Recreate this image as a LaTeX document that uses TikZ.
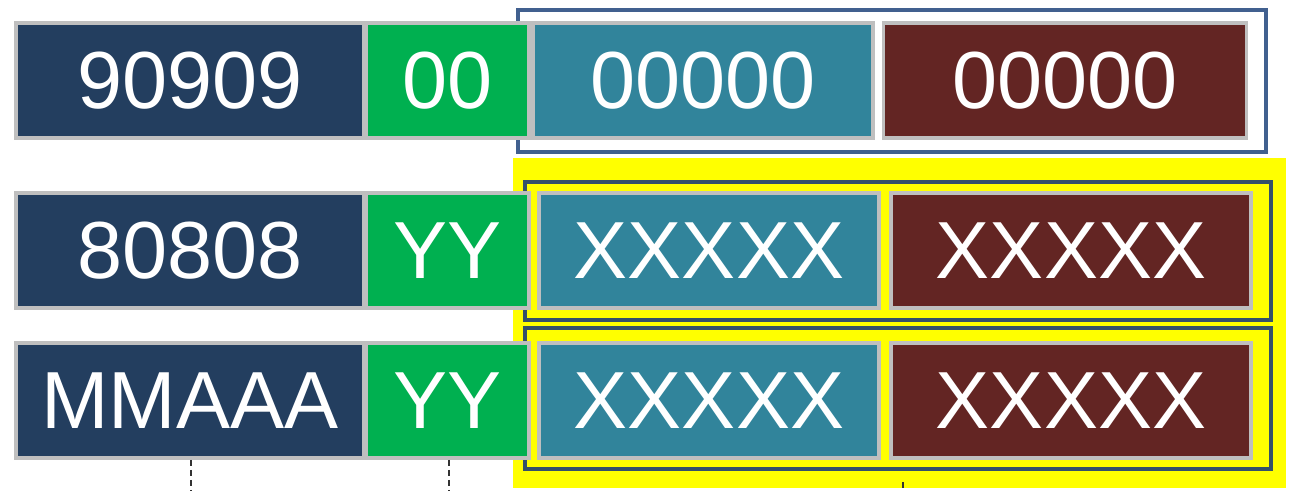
\documentclass[tikz,border=0pt]{standalone}
\usepackage{fontspec}
\setmainfont{Liberation Sans}
\definecolor{navy}{HTML}{233E5F}
\definecolor{grn}{HTML}{00B050}
\definecolor{teal2}{HTML}{31849B}
\definecolor{maroon2}{HTML}{632523}
\definecolor{cellgray}{HTML}{BFBFBF}
\definecolor{frameblue}{HTML}{41608F}
\definecolor{framedark}{HTML}{34506A}
\definecolor{yel}{HTML}{FFFF00}
\tikzset{
  cell/.style={draw=cellgray, line width=3.5pt, text=white, inner sep=0pt,
    minimum height=115pt, font=\fontsize{81}{90}\selectfont},
  frame/.style={line width=3.8pt},
  guide/.style={dash pattern=on 6pt off 4pt, line width=1.4pt, black!80}
}
\begin{document}
\begin{tikzpicture}[x=1pt,y=-1pt]
\useasboundingbox[fill=white] (0,0) rectangle (1289,490);
% frames and highlight
\draw[frame, draw=frameblue] (518,10) rectangle (1266,152);
\fill[yel] (513,158) rectangle (1286,488);
\draw[frame, draw=framedark] (525,182) rectangle (1271,320);
\draw[frame, draw=framedark] (525,328) rectangle (1271,469);
% row 1
\node[cell, fill=navy, minimum width=348pt] (n1) at (190,80.5) {90909};
\node[cell, fill=grn, minimum width=163pt] (g1) at (447.5,80.5) {00};
\node[cell, fill=teal2, minimum width=340pt] (t1) at (703,80.5) {00000};
\node[cell, fill=maroon2, minimum width=363pt] (m1) at (1065,80.5) {00000};
% row 2
\node[cell, fill=navy, minimum width=348pt] (n2) at (190,250.5) {80808};
\node[cell, fill=grn, minimum width=163pt] (g2) at (447.5,250.5) {YY};
\node[cell, fill=teal2, minimum width=340pt] (t2) at (709,250.5) {XXXXX};
\node[cell, fill=maroon2, minimum width=360pt] (m2) at (1071,250.5) {XXXXX};
% row 3
\node[cell, fill=navy, minimum width=348pt] (n3) at (190,400.5) {MMAAA};
\node[cell, fill=grn, minimum width=163pt] (g3) at (447.5,400.5) {YY};
\node[cell, fill=teal2, minimum width=340pt] (t3) at (709,400.5) {XXXXX};
\node[cell, fill=maroon2, minimum width=360pt] (m3) at (1071,400.5) {XXXXX};
% guides
\coordinate (d1) at (191,490);
\coordinate (d2) at (449,490);
\coordinate (d3a) at (903,482);
\coordinate (d3b) at (903,490);
\draw[guide] (n3.south -| d1) -- (d1);
\draw[guide] (g3.south -| d2) -- (d2);
\draw[guide] (d3a) -- (d3b);
\end{tikzpicture}
\end{document}
